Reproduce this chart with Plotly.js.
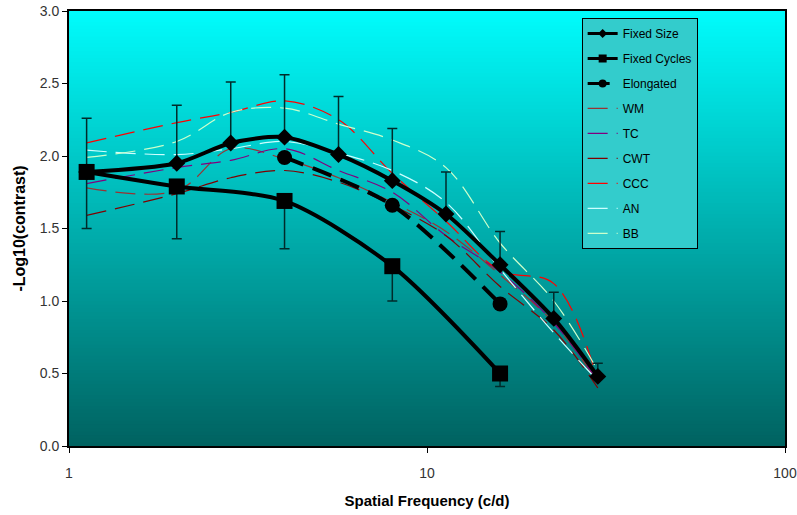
<!DOCTYPE html>
<html>
<head>
<meta charset="utf-8">
<script src="https://cdn.plot.ly/plotly-3.0.1.min.js"></script>
<style>html,body{margin:0;padding:0;background:#fff;}#chart{width:797px;height:515px;}</style>
</head>
<body>
<div id="chart"></div>
<script>
// ---- data ----
const freqs = [1.12, 2, 2.83, 4, 5.66, 8, 11.3, 16, 22.6, 30];
const fixedSize = [1.89, 1.95, 2.09, 2.13, 2.01, 1.83, 1.60, 1.25, 0.88, 0.48];
const fixedSizeErrPlus = [0.37, 0.40, 0.42, 0.43, 0.40, 0.36, 0.29, 0.23, 0.18, 0.09];

const cycleFreqs = [1.12, 2, 4, 8, 16];
const fixedCycles = [1.89, 1.79, 1.69, 1.24, 0.50];
const fixedCyclesErrMinus = [0.39, 0.36, 0.33, 0.24, 0.09];

const elongFreqs = [4, 8, 16];
const elongated = [1.99, 1.66, 0.98];

const WM  = [1.78, 1.76, 2.05, 1.98, 1.85, 1.68, 1.48, 1.18, 0.85, 0.44];
const TC  = [1.81, 1.92, 1.97, 2.05, 1.90, 1.75, 1.45, 1.20, 0.85, 0.45];
const CWT = [1.59, 1.74, 1.85, 1.90, 1.82, 1.66, 1.45, 1.10, 0.80, 0.40];
const CCC = [2.09, 2.23, 2.30, 2.38, 2.25, 1.88, 1.55, 1.21, 1.12, 0.45];
const AN  = [2.04, 2.01, 2.05, 2.10, 2.02, 1.90, 1.68, 1.22, 0.78, 0.45];
const BB  = [1.99, 2.10, 2.30, 2.33, 2.22, 2.11, 1.92, 1.40, 1.00, 0.52];

const observerNames = ['WM', 'TC', 'CWT', 'CCC', 'AN', 'BB'];
const observerData = [WM, TC, CWT, CCC, AN, BB];
const observerColors = ['#993333', '#800080', '#800000', '#FF0000', '#CCFFFF', '#CCFFCC'];

const yTicks = [0, 0.5, 1.0, 1.5, 2.0, 2.5, 3.0];
const xTicks = [1, 10, 100];
const xTickLabels = ['1', '10', '100'];

// ---- traces ----
const traces = [];
let g = 0;
// legend entries for the three main series (small legend symbols as in the reference)
traces.push({x: [null], y: [null], name: 'Fixed Size', type: 'scatter', mode: 'lines+markers',
  line: {color: '#000', width: 3}, marker: {symbol: 'diamond', size: 7, color: '#000'}, legendgroup: 'g' + (g++)});
traces.push({x: [null], y: [null], name: 'Fixed Cycles', type: 'scatter', mode: 'lines+markers',
  line: {color: '#000', width: 3}, marker: {symbol: 'square', size: 8, color: '#000'}, legendgroup: 'g' + (g++)});
traces.push({x: [null], y: [null], name: 'Elongated', type: 'scatter', mode: 'lines+markers',
  line: {color: '#000', width: 3, dash: '22px,9px'}, marker: {symbol: 'circle', size: 8, color: '#000'}, legendgroup: 'g' + (g++)});
// individual observers (thin dashed), drawn beneath the main series
observerNames.forEach((n, i) => {
  traces.push({
    x: freqs, y: observerData[i], name: n, type: 'scatter', mode: 'lines',
    line: {color: observerColors[i], width: 1.2, shape: 'spline', smoothing: 1, dash: '20px,9px'},
    legendgroup: 'g' + (g++)
  });
});
traces.push({
  x: freqs, y: fixedSize, name: 'Fixed Size', type: 'scatter', mode: 'lines+markers',
  line: {color: '#000', width: 4, shape: 'spline', smoothing: 0.8},
  marker: {symbol: 'diamond', size: 13, color: '#000'},
  error_y: {type: 'data', symmetric: false, array: fixedSizeErrPlus, arrayminus: freqs.map(() => 0),
            color: '#002b2b', thickness: 1.5, width: 5},
  showlegend: false
});
traces.push({
  x: cycleFreqs, y: fixedCycles, name: 'Fixed Cycles', type: 'scatter', mode: 'lines+markers',
  line: {color: '#000', width: 4, shape: 'spline', smoothing: 0.8},
  marker: {symbol: 'square', size: 16, color: '#000'},
  error_y: {type: 'data', symmetric: false, array: cycleFreqs.map(() => 0), arrayminus: fixedCyclesErrMinus,
            color: '#002b2b', thickness: 1.5, width: 5},
  showlegend: false
});
traces.push({
  x: elongFreqs, y: elongated, name: 'Elongated', type: 'scatter', mode: 'lines+markers',
  line: {color: '#000', width: 4, shape: 'spline', smoothing: 0.8, dash: '20px,10px'},
  marker: {symbol: 'circle', size: 15, color: '#000'},
  showlegend: false
});

// ---- background gradient bands ----
const shapes = [];
const N = 120;
const topColor = [0, 252, 252], botColor = [0, 98, 96];
for (let i = 0; i < N; i++) {
  const t = (i + 0.5) / N; // 0 bottom -> 1 top
  const c = botColor.map((b, k) => Math.round(b + (topColor[k] - b) * t));
  shapes.push({type: 'rect', xref: 'x domain', yref: 'y domain', x0: 0, x1: 1,
    y0: i / N, y1: (i + 1) / N + 0.002, line: {width: 0},
    fillcolor: `rgb(${c[0]},${c[1]},${c[2]})`, layer: 'below'});
}

const layout = {
  width: 797, height: 515,
  margin: {l: 69, r: 12, t: 11, b: 69},
  paper_bgcolor: '#fff', plot_bgcolor: '#00b0b0',
  showlegend: true,
  legend: {x: 0.716, y: 0.984, xanchor: 'left', yanchor: 'top',
    bgcolor: '#33CCCC', bordercolor: '#000', borderwidth: 1,
    font: {family: 'Arial, Liberation Sans, sans-serif', size: 12, color: '#000'},
    traceorder: 'grouped', tracegroupgap: 6},
  xaxis: {type: 'log', range: [0, 2], tickvals: xTicks, ticktext: xTickLabels,
    ticks: 'outside', ticklen: 5, tickcolor: '#000', showgrid: false, zeroline: false,
    showline: true, linecolor: '#000', linewidth: 2, mirror: true,
    tickfont: {family: 'Arial, Liberation Sans, sans-serif', size: 14, color: '#333'},
    ticklabelstandoff: 8,
    title: {text: 'Spatial Frequency (c/d)', standoff: 16,
      font: {family: 'Liberation Sans Narrow, Arial Narrow, Arial, sans-serif', size: 15, color: '#000', weight: 'bold'}}},
  yaxis: {range: [0, 3], tickvals: yTicks, tickformat: '.1f',
    ticks: 'outside', ticklen: 5, tickcolor: '#000', showgrid: false, zeroline: false,
    showline: true, linecolor: '#000', linewidth: 2, mirror: true,
    tickfont: {family: 'Arial, Liberation Sans, sans-serif', size: 14, color: '#333'},
    title: {text: '-Log10(contrast)', standoff: 10,
      font: {family: 'Arial, Liberation Sans, sans-serif', size: 16, color: '#000', weight: 'bold'}}},
  shapes: shapes
};

Plotly.newPlot('chart', traces, layout, {staticPlot: true, displayModeBar: false});
</script>
</body>
</html>
